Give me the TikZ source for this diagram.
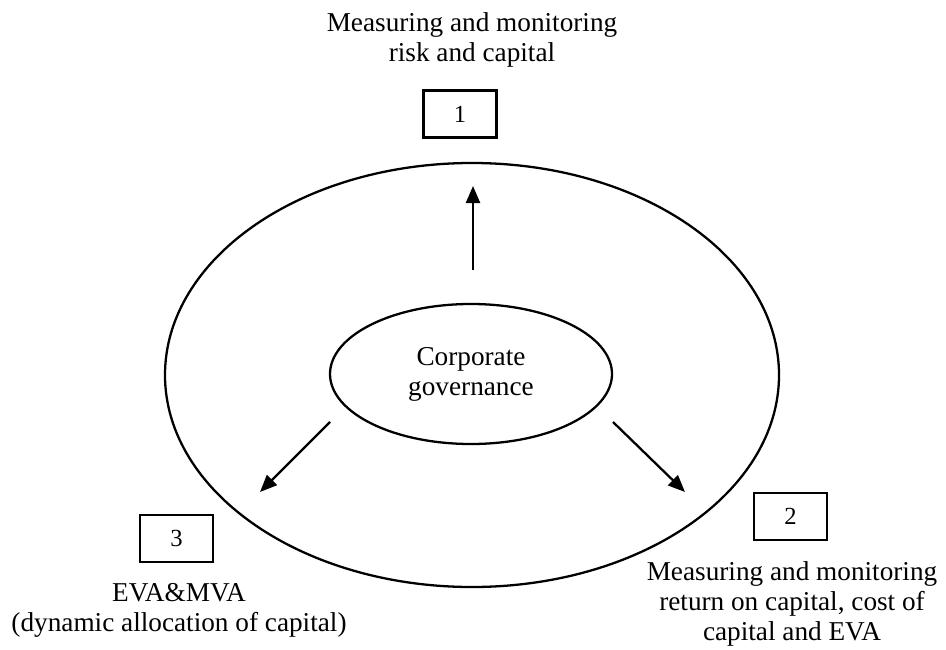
\documentclass[tikz,border=0pt]{standalone}
\usepackage{fontspec}
\setmainfont{Liberation Serif}
\usetikzlibrary{arrows.meta,shapes.geometric}
\begin{document}
\begin{tikzpicture}[
  numbox/.style={draw, line width=1.2pt, minimum width=1.46cm, minimum height=0.94cm, inner sep=0pt, font=\fontsize{14}{16}\selectfont},
  label text/.style={align=center, inner sep=1pt, font=\fontsize{15.5}{17}\selectfont},
  ring/.style={draw, ellipse, line width=1.3pt, inner sep=0pt},
  flow/.style={line width=1.3pt, -{Triangle[length=0.34cm, width=0.28cm]}}
]
\useasboundingbox (0,0) rectangle (18.92,12.98);
% outer and inner ellipse
\node[ring, minimum width=12.28cm, minimum height=8.48cm] (outer) at (9.44,5.48) {};
\node[ring, minimum width=5.64cm, minimum height=2.8cm, label text] (gov) at (9.42,5.50) {Corporate\\governance};
% numbered boxes
\node[numbox] (box1) at (9.20,10.70) {1};
\node[numbox] (box2) at (15.81,2.65) {2};
\node[numbox] (box3) at (3.53,2.21) {3};
% texts
\node[label text] (risk) at (9.44,12.18) {Measuring and monitoring\\risk and capital};
\node[label text] (eva) at (15.84,0.9) {Measuring and monitoring\\return on capital, cost of\\capital and EVA};
\node[label text] (mva) at (3.58,0.78) {EVA\&MVA\\(dynamic allocation of capital)};
% arrows
\coordinate (up0) at (9.46,7.58);
\coordinate (up1) at (9.46,9.26);
\coordinate (lf0) at (6.60,4.54);
\coordinate (lf1) at (5.20,3.14);
\coordinate (rt0) at (12.26,4.54);
\coordinate (rt1) at (13.70,3.14);
\draw[flow] (up0) -- (up1);
\draw[flow] (lf0) -- (lf1);
\draw[flow] (rt0) -- (rt1);
\end{tikzpicture}
\end{document}
